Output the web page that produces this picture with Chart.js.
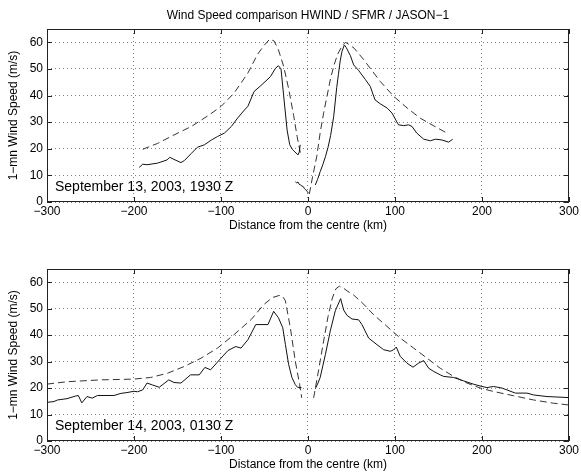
<!DOCTYPE html>
<html>
<head>
<meta charset="utf-8">
<script src="https://cdn.jsdelivr.net/npm/chart.js@4/dist/chart.umd.min.js"></script>
<style>
  html, body { margin: 0; padding: 0; background: #fff; }
  .box { position: relative; width: 581px; height: 236px; }
</style>
</head>
<body>
<div class="box"><canvas id="sep13"></canvas></div>
<div class="box"><canvas id="sep14"></canvas></div>
<script>
Chart.defaults.font.family = "'Liberation Sans', Arial, sans-serif";
Chart.defaults.font.size = 12;
Chart.defaults.color = '#000';

const xTicks = [-300, -200, -100, 0, 100, 200, 300];
const yTicks = [0, 10, 20, 30, 40, 50, 60];

// September 13 - solid (measured) and dashed profiles, in pieces
const sep13SolidLeftX = [-194, -190, -185, -173, -162, -159, -154, -146, -142, -134, -127, -119, -111, -104, -96, -88, -81, -73, -69, -62, -55, -46, -43, -37.5, -34, -31, -28, -24, -21, -18, -15, -11.5, -10, -9];
const sep13SolidLeftY = [13, 14.2, 14, 14.6, 15.8, 16.8, 16, 14.8, 15.6, 18.3, 20.6, 21.5, 23.3, 24.6, 25.9, 28.4, 31.5, 34.6, 36, 41.5, 43.5, 46.2, 47.2, 50.2, 51.2, 50, 40, 27, 21.5, 19.8, 18.8, 17.7, 18.8, 21.5];
const sep13SolidMidX = [-14.5, -13, -11.5, -10, -8.5, -7, -5.5, -4, -2.5, -1, 0.5];
const sep13SolidMidY = [7.6, 7.2, 7.5, 6.6, 6.4, 6.0, 5.8, 5.0, 4.6, 4.0, 3.3];
const sep13SolidRightX = [8.4, 11, 14, 17, 20, 23, 26, 29.5, 33, 35, 37, 39, 41.8, 44, 48.7, 52.5, 58, 66, 71.6, 77, 83, 91, 96.6, 104, 110, 115.7, 119.5, 125, 133, 140.6, 146.4, 154, 161.7, 166.3];
const sep13SolidRightY = [6.4, 8.5, 11.4, 14, 17, 20.5, 25, 32, 43, 48, 53, 56.5, 59, 58, 55, 51.5, 49.5, 46, 43.4, 38.4, 36.9, 35.3, 33.4, 29, 28.7, 29, 28.4, 25.9, 23.6, 23, 23.6, 23.3, 22.5, 23.6];
const sep13DashedLeftX = [-190, -173, -154, -134, -115, -100, -85, -69, -58, -50, -44, -39, -34, -28, -22, -16.5, -12.5, -8.5];
const sep13DashedLeftY = [19.8, 22, 25.2, 28.4, 32.4, 35.9, 40.9, 48.5, 55.5, 59, 61.2, 60.5, 57.2, 51, 42.2, 32.5, 24.6, 18];
const sep13DashedRightX = [1.5, 5, 10, 14, 18, 22, 26, 30, 34, 39, 43, 48, 53, 64, 83, 98.5, 114, 129, 144, 158];
const sep13DashedRightY = [3, 9, 17, 26, 33.5, 40, 46.5, 51.5, 55.5, 58.5, 60, 59, 57.8, 53.5, 45.3, 39.7, 35.3, 31.5, 28.7, 26.2];

// September 14
const sep14SolidLeftX = [-300, -292, -288, -277, -267, -264, -260, -254, -248, -242, -223, -215, -208, -200, -196, -190, -185, -179, -171, -160, -154, -146, -135, -125, -118.5, -112, -100, -92, -83, -77, -69, -60, -46, -39.5, -34, -29, -26, -22.3, -18.5, -14.6, -12, -7.5];
const sep14SolidLeftY = [14.6, 14.9, 15.5, 16, 17, 17.2, 14.4, 16.8, 16.2, 17.2, 17.2, 18, 18.3, 18.8, 18.6, 19.3, 21.9, 21.2, 20.3, 23.1, 22.1, 21.9, 25, 25, 27.8, 26.9, 31.3, 34.2, 35.7, 35.1, 38.3, 44, 44, 49, 46.6, 42.8, 36.5, 29, 24, 21.3, 20.3, 20.2];
const sep14SolidRightX = [8.4, 11, 14, 20, 25.6, 31.4, 37.5, 41, 44.8, 50.6, 58.2, 62, 69.7, 79.3, 87, 94.6, 98.5, 101.5, 106, 113.8, 120.7, 127, 133, 138.7, 144.4, 152, 156, 167.4, 179, 190, 200, 205.7, 213.4, 223, 228.7, 238.3, 251.7, 259.4, 274.7, 300];
const sep14SolidRightY = [19.8, 21.5, 24, 32.7, 41.6, 49.2, 53.8, 49.5, 47.5, 46.1, 45.8, 44, 38.9, 36.4, 34.5, 33.9, 34.5, 35.5, 32, 29.4, 27.9, 29.4, 30.4, 27.5, 26.3, 25, 24.4, 24, 22.7, 21.5, 20.6, 20.2, 20.6, 20, 19.3, 18.1, 18.1, 17.4, 16.8, 16.4];
const sep14DashedLeftX = [-300, -277, -238.5, -200, -181, -161.5, -142, -123, -104, -85, -65, -51, -41, -33, -29.5, -26, -20.3, -14.6, -9.6, -7.2];
const sep14DashedLeftY = [21.5, 22.4, 23.1, 23.4, 24, 25.6, 28.2, 31.3, 35.1, 40.2, 46, 51.5, 54.2, 55, 54.8, 53, 42.8, 30.2, 21.3, 16.3];
const sep14DashedRightX = [6.5, 12.3, 18, 23, 28, 32, 36, 41, 46, 52, 64, 75.5, 90.8, 106, 121.5, 136.8, 152, 167.4, 182.8, 198, 213.4, 236.4, 259.4, 282, 300];
const sep14DashedRightY = [16.3, 27, 37.8, 47, 54, 57.5, 58.5, 57.7, 56.5, 55.3, 51.7, 47.7, 43.3, 38.9, 35.1, 31.3, 27.5, 24.4, 21.9, 20, 18.7, 17.1, 15.5, 14.3, 13.6];

function pts(xs, ys) {
  return xs.map((x, i) => ({ x: x, y: ys[i] }));
}
function minus(v) {
  return String(v).replace('-', '\u2212');
}
function solid(xs, ys) {
  return { data: pts(xs, ys), borderColor: '#111', borderWidth: 1 };
}
function dashed(xs, ys) {
  return { data: pts(xs, ys), borderColor: '#333', borderWidth: 1, borderDash: [7, 4] };
}

// box, inward tick marks, date label and main title
const frame = {
  id: 'frame',
  afterDraw(chart, args, opts) {
    const ctx = chart.ctx;
    const a = chart.chartArea;
    const sx = chart.scales.x, sy = chart.scales.y;
    ctx.save();
    ctx.strokeStyle = '#222';
    ctx.lineWidth = 1;
    ctx.strokeRect(a.left + 0.5, a.top + 0.5, a.right - a.left - 1, a.bottom - a.top - 1);
    ctx.beginPath();
    xTicks.forEach(v => {
      const p = Math.round(sx.getPixelForValue(v)) + 0.5;
      ctx.moveTo(p, a.top); ctx.lineTo(p, a.top + 5);
      ctx.moveTo(p, a.bottom); ctx.lineTo(p, a.bottom - 5);
    });
    yTicks.forEach(v => {
      const p = Math.round(sy.getPixelForValue(v)) + 0.5;
      ctx.moveTo(a.left, p); ctx.lineTo(a.left + 5, p);
      ctx.moveTo(a.right, p); ctx.lineTo(a.right - 5, p);
    });
    ctx.stroke();
    ctx.fillStyle = '#000';
    ctx.textBaseline = 'middle';
    ctx.font = "14px 'Liberation Sans', Arial, sans-serif";
    ctx.fillText(opts.label, a.left + 8, a.bottom - 14.5);
    if (opts.title) {
      ctx.font = "12px 'Liberation Sans', Arial, sans-serif";
      ctx.textAlign = 'center';
      ctx.fillText(opts.title, (a.left + a.right) / 2, 16);
    }
    ctx.restore();
  }
};

function makeChart(id, datasets, label, title, topPad, xHeight, xTitlePad) {
  return new Chart(document.getElementById(id), {
    type: 'line',
    data: { datasets: datasets },
    options: {
      responsive: true,
      maintainAspectRatio: false,
      animation: false,
      devicePixelRatio: 1,
      layout: { padding: { top: topPad, right: 12, left: 0, bottom: 0 } },
      elements: { point: { radius: 0 }, line: { tension: 0 } },
      plugins: {
        legend: { display: false },
        tooltip: { enabled: false },
        frame: { label: label, title: title }
      },
      scales: {
        x: {
          type: 'linear',
          min: -300,
          max: 300,
          afterBuildTicks: s => { s.ticks = xTicks.map(v => ({ value: v })); },
          afterFit: s => { s.height = xHeight; },
          grid: { color: 'rgba(0,0,0,0.5)', drawTicks: false },
          border: { display: false, dash: [1, 3] },
          ticks: { padding: 2, maxRotation: 0, callback: v => minus(v) },
          title: { display: true, text: 'Distance from the centre (km)', padding: { top: 0, bottom: xTitlePad } }
        },
        y: {
          min: 0,
          max: 65,
          afterBuildTicks: s => { s.ticks = yTicks.map(v => ({ value: v })); },
          afterFit: s => { s.width = 47; },
          grid: { color: 'rgba(0,0,0,0.5)', drawTicks: false },
          border: { display: false, dash: [1, 3] },
          ticks: { padding: 4 },
          title: { display: true, text: '1\u2212mn Wind Speed (m/s)', padding: { top: 6, bottom: 0 } }
        }
      }
    },
    plugins: [frame]
  });
}

makeChart('sep13', [
  solid(sep13SolidLeftX, sep13SolidLeftY),
  solid(sep13SolidMidX, sep13SolidMidY),
  solid(sep13SolidRightX, sep13SolidRightY),
  dashed(sep13DashedLeftX, sep13DashedLeftY),
  dashed(sep13DashedRightX, sep13DashedRightY)
], 'September 13, 2003, 1930 Z', 'Wind Speed comparison HWIND / SFMR / JASON\u22121', 29, 34, 3);

makeChart('sep14', [
  solid(sep14SolidLeftX, sep14SolidLeftY),
  solid(sep14SolidRightX, sep14SolidRightY),
  dashed(sep14DashedLeftX, sep14DashedLeftY),
  dashed(sep14DashedRightX, sep14DashedRightY)
], 'September 14, 2003, 0130 Z', null, 33, 31, 0);
</script>
</body>
</html>
